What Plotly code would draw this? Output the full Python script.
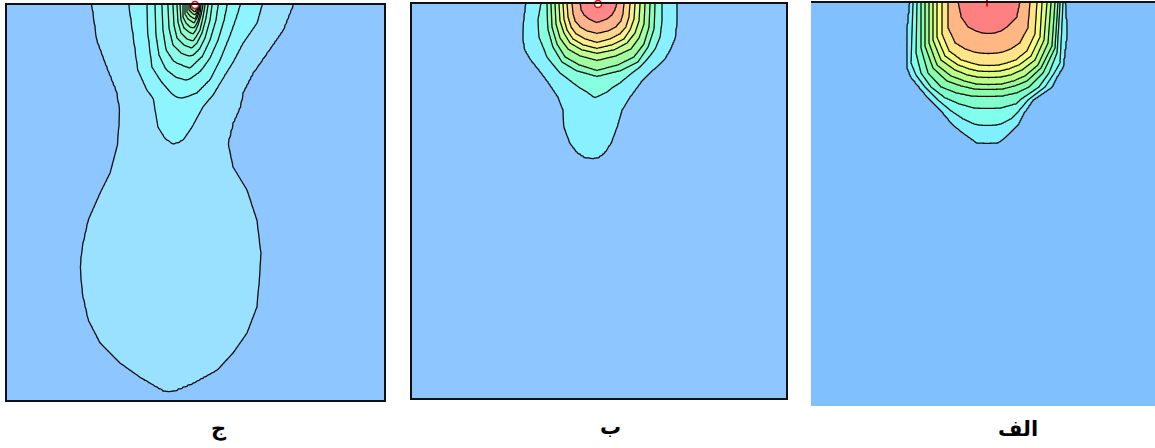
import numpy as np
import plotly.graph_objects as go

# ------------------------------------------------------------------
# Panel ج : contour extents, one list per contour level (outer -> inner)
# depth measured down from the top edge, x from the panel's left edge
# ------------------------------------------------------------------
jim_width, jim_height = 377, 395
jim_left_depth = [
    [0, 35, 62, 87, 105, 138, 168, 188, 215, 242, 262, 288, 315, 338, 358, 372, 388],
    [0, 28, 65, 85, 93, 105, 122, 133, 139],
    [0, 28, 62, 78, 89, 94],
    [0, 30, 50, 65, 73, 75],
    [0, 25, 45, 57, 63],
    [0, 23, 40, 48, 52],
    [0, 20, 33, 40, 43],
    [0, 17, 28, 34, 36],
    [0, 15, 23, 27, 29],
    [0, 12, 18, 22, 23],
    [0, 9, 14, 18],
    [0, 7, 11, 14],
    [0, 5, 8, 10],
    [0, 4, 7],
    [0, 3, 4],
    [0, 2],
]
jim_left_x = [
    [85, 90, 100, 110, 113, 111, 103, 93, 81, 75, 73, 75, 81, 93, 113, 133, 161],
    [122, 126, 131, 140, 146, 148, 151, 158, 166],
    [140, 141, 145, 155, 165, 173],
    [148, 149, 152, 159, 170, 181],
    [155, 156, 159, 167, 183],
    [161, 162, 166, 174, 184],
    [166, 167, 170, 177, 185],
    [170, 171, 174, 180, 186],
    [173, 174, 177, 182, 186],
    [176, 176, 179, 183, 187],
    [178, 178, 181, 187],
    [180, 180, 183, 188],
    [182, 182, 185, 188],
    [183, 184, 188],
    [184.5, 186, 188],
    [186, 188],
]
jim_right_depth = [
    [0, 25, 48, 68, 87, 102, 118, 138, 162, 185, 215, 248, 268, 302, 328, 348, 365, 378, 388],
    [0, 18, 38, 57, 73, 90, 102, 122, 135, 139],
    [0, 10, 30, 55, 75, 88, 94],
    [0, 15, 35, 53, 67, 75],
    [0, 15, 35, 52, 63],
    [0, 15, 33, 45, 52],
    [0, 13, 28, 38, 43],
    [0, 12, 25, 32, 36],
    [0, 10, 20, 25, 29],
    [0, 9, 16, 20, 23],
    [0, 7, 13, 18],
    [0, 6, 10, 14],
    [0, 5, 8, 10],
    [0, 4, 7],
    [0, 3, 4],
    [0, 2],
]
jim_right_x = [
    [286, 276, 260, 246, 236, 233, 226, 221, 226, 240, 250, 254, 253, 250, 240, 226, 210, 186, 161],
    [255, 250, 236, 226, 216, 206, 196, 185, 176, 166],
    [233, 230, 223, 213, 203, 190, 173],
    [220, 217, 211, 203, 193, 181],
    [211, 209, 203, 195, 183],
    [205, 203, 198, 192, 184],
    [201, 199, 195, 190, 185],
    [198, 196, 193, 189, 186],
    [196, 194, 191, 189, 186],
    [194, 193, 191, 189, 187],
    [193, 192, 190, 187],
    [192, 191, 190, 188],
    [191, 190.5, 189.5, 188],
    [190, 189.5, 188],
    [189.5, 189, 188],
    [189, 188],
]
jim_colors = ["#8ec6ff", "#9ae0ff", "#8ef4ff", "#8cf9f8", "#8cfbf0", "#8cfde8",
              "#8cfee0", "#8cffd8", "#8effd0", "#90ffc8", "#94ffc0", "#98ffb8",
              "#9cffb0", "#a0ffa8", "#a4ffa0", "#a8ff98", "#acff90"]
jim_peak = (188, 0)

# ------------------------------------------------------------------
# Panel ب
# ------------------------------------------------------------------
be_width, be_height = 374, 394
be_depth = [
    [0, 16, 34, 46, 56, 66, 78, 93, 106, 123, 139, 148, 152, 155],
    [0, 16, 33, 45, 53, 63, 69, 79, 84, 88, 93],
    [0, 25, 43, 58, 67, 72],
    [0, 23, 40, 53, 61, 66],
    [0, 20, 34, 45, 52, 56],
    [0, 17, 29, 39, 46, 49],
    [0, 15, 26, 35, 41, 44],
    [0, 13, 23, 30, 35, 38],
    [0, 10, 17, 23, 27, 29],
    [0, 6, 11, 15, 18],
]
be_left = [
    [114, 112, 111, 113, 119, 127, 136, 146, 151, 152, 158, 165, 171, 180],
    [129, 126, 127, 132, 135, 143, 148, 161, 168, 175, 182],
    [135, 136, 141, 150, 165, 184],
    [139, 140, 145, 153, 167, 184],
    [143, 144, 148, 156, 168, 184],
    [147, 148, 152, 158, 170, 184],
    [151, 152, 155, 161, 171, 184],
    [155, 156, 159, 164, 173, 184],
    [160, 161, 163, 168, 175, 184],
    [168, 169, 172, 177, 184],
]
be_right = [
    [265, 265, 263, 258, 252, 241, 229, 218, 210, 205, 199, 193, 188, 181],
    [250, 250, 248, 243, 237, 228, 220, 208, 200, 195, 184],
    [243, 242, 236, 226, 208, 186],
    [238, 237, 232, 222, 206, 186],
    [233, 232, 227, 219, 204, 186],
    [228, 227, 223, 215, 202, 186],
    [223, 222, 218, 212, 200, 186],
    [218, 217, 214, 208, 198, 186],
    [212, 211, 209, 204, 196, 186],
    [205, 203, 200, 195, 186],
]
be_colors = ["#8ec6ff", "#88f0ff", "#88ffe0", "#8cffc0", "#a0ffa0", "#c0ff90",
             "#e0ff8c", "#fff08c", "#ffd890", "#ffb48c", "#ff8888"]
be_peak = (186, 0)

# ------------------------------------------------------------------
# Panel الف
# ------------------------------------------------------------------
alef_width, alef_height = 344, 403
alef_depth = [
    [0, 30, 64, 74, 84, 97, 110, 122, 130, 137, 140],
    [0, 60, 72, 84, 97, 108, 116, 121, 122],
    [0, 50, 70, 84, 95, 101, 105],
    [0, 45, 70, 84, 90, 93],
    [0, 43, 65, 78, 83, 86],
    [0, 40, 62, 73, 78, 81],
    [0, 37, 57, 67, 72, 74],
    [0, 34, 53, 62, 66, 68],
    [0, 31, 48, 57, 60, 62],
    [0, 25, 40, 46, 49, 50],
    [0, 14, 24, 28, 30],
]
alef_left = [
    [99, 96, 96, 100, 108, 119, 132, 142, 152, 162, 166],
    [102, 100, 105, 114, 127, 140, 152, 163, 168],
    [106, 105, 110, 120, 134, 148, 163],
    [110, 110, 117, 130, 145, 160],
    [114, 114, 122, 136, 150, 163],
    [118, 118, 126, 140, 153, 165],
    [122, 122, 130, 144, 156, 166],
    [126, 126, 134, 147, 158, 167],
    [131, 131, 138, 150, 160, 168],
    [137, 137, 144, 154, 163, 169],
    [147, 150, 157, 165, 172],
]
alef_right = [
    [254, 256, 252, 246, 241, 222, 213, 207, 199, 191, 186],
    [252, 249, 242, 234, 217, 208, 200, 190, 185],
    [249, 246, 238, 228, 212, 205, 190],
    [247, 244, 232, 218, 206, 192],
    [244, 241, 230, 216, 204, 192],
    [240, 237, 227, 214, 203, 191],
    [236, 233, 224, 211, 200, 190],
    [231, 229, 220, 208, 198, 189],
    [226, 224, 216, 205, 196, 188],
    [219, 217, 209, 200, 192, 186],
    [209, 206, 196, 190, 183],
]
alef_colors = ["#80c0ff", "#80f0ff", "#80ffec", "#80ffcc", "#88ffac", "#9cff94",
               "#bcff88", "#dcff80", "#f8ff80", "#ffe488", "#ffb884", "#ff8080"]
alef_peak = (176, 0)

panel_labels = ["ج", "ب", "الف"]


def level_field(ld, lx, rd, rx, xs, ys):
    """Grid whose value equals k exactly on the k-th contour outline."""
    z = np.zeros((len(ys), len(xs)))
    for i, y in enumerate(ys):
        lefts, rights = [], []
        for k in range(len(ld)):
            if y > ld[k][-1] or y > rd[k][-1]:
                break
            xl = float(np.interp(y, ld[k], lx[k]))
            xr = float(np.interp(y, rd[k], rx[k]))
            if lefts:
                xl = max(xl, lefts[-1] + 0.05)
                xr = min(xr, rights[-1] - 0.05)
            if xr - xl < 0.1:
                break
            lefts.append(xl)
            rights.append(xr)
        m = len(lefts)
        if m == 0:
            continue
        px = [xs[0] - 1] + lefts + [(lefts[-1] + rights[-1]) / 2] + rights[::-1] + [xs[-1] + 1]
        pz = [0] + list(range(1, m + 1)) + [m + 0.5] + list(range(m, 0, -1)) + [0]
        z[i] = np.interp(xs, px, pz)
    return np.round(z, 3)


def grid(width, height, fine_x, fine_y, step_x=2.0, step_y=2.0):
    xs = np.unique(np.concatenate([np.arange(0, width, step_x), np.arange(*fine_x), [width]]))
    ys = np.unique(np.concatenate([np.arange(*fine_y), np.arange(fine_y[1], height, step_y), [height]]))
    return xs, ys


W, H = 1155, 448
panels = [
    dict(ld=jim_left_depth, lx=jim_left_x, rd=jim_right_depth, rx=jim_right_x,
         colors=jim_colors, w=jim_width, h=jim_height, peak=jim_peak,
         fine_x=(165, 210, 0.5), fine_y=(0, 40, 0.5),
         box=(7, 384, 5, 400), label_xy=(219, 428), frame="box"),
    dict(ld=be_depth, lx=be_left, rd=be_depth, rx=be_right,
         colors=be_colors, w=be_width, h=be_height, peak=be_peak,
         fine_x=(100, 280, 1.0), fine_y=(0, 100, 1.0),
         box=(412, 786, 4, 398), label_xy=(610, 427), frame="box"),
    dict(ld=alef_depth, lx=alef_left, rd=alef_depth, rx=alef_right,
         colors=alef_colors, w=alef_width, h=alef_height, peak=alef_peak,
         fine_x=(90, 265, 1.0), fine_y=(0, 150, 1.0),
         box=(811, 1155, 3, 406), label_xy=(1018, 429), frame="top"),
]

fig = go.Figure()
layout = {}
for idx, p in enumerate(panels, start=1):
    xs, ys = grid(p["w"], p["h"], p["fine_x"], p["fine_y"])
    z = level_field(p["ld"], p["lx"], p["rd"], p["rx"], xs, ys)
    n = len(p["ld"])
    scale = [[k / n, c] for k, c in enumerate(p["colors"])]
    xa = "x" if idx == 1 else f"x{idx}"
    ya = "y" if idx == 1 else f"y{idx}"
    fig.add_trace(go.Contour(
        x=xs, y=ys, z=z.tolist(), xaxis=xa, yaxis=ya,
        contours=dict(start=1, end=n, size=1, coloring="fill", showlines=True),
        line=dict(color="#0d0d0d", width=1.3, smoothing=0.6),
        colorscale=scale, showscale=False, hoverinfo="skip",
    ))
    if p["frame"] == "box":
        fig.add_trace(go.Scatter(
            x=[p["peak"][0]], y=[p["peak"][1]], xaxis=xa, yaxis=ya, mode="markers",
            marker=dict(symbol="circle", size=7, color="white",
                        line=dict(color="#e01010", width=1.5)),
            cliponaxis=False, hoverinfo="skip", showlegend=False,
        ))
    else:
        fig.add_trace(go.Scatter(
            x=[p["peak"][0]], y=[p["peak"][1]], xaxis=xa, yaxis=ya, mode="markers",
            marker=dict(symbol="line-ns", size=5, line=dict(color="#e01010", width=2)),
            cliponaxis=False, hoverinfo="skip", showlegend=False,
        ))

    x0, x1, y0, y1 = p["box"]
    boxed = p["frame"] == "box"
    xkey = "xaxis" if idx == 1 else f"xaxis{idx}"
    ykey = "yaxis" if idx == 1 else f"yaxis{idx}"
    layout[xkey] = dict(
        domain=[x0 / W, x1 / W], range=[0, p["w"]], anchor=ya,
        showgrid=False, zeroline=False, showticklabels=False, ticks="",
        showline=True, mirror=boxed, linecolor="#111111", linewidth=2,
        side="bottom" if boxed else "top", fixedrange=True,
    )
    layout[ykey] = dict(
        domain=[1 - y1 / H, 1 - y0 / H], range=[p["h"], 0], anchor=xa,
        showgrid=False, zeroline=False, showticklabels=False, ticks="",
        showline=boxed, mirror=boxed, linecolor="#111111", linewidth=2,
        fixedrange=True,
    )

annotations = []
for p, text in zip(panels, panel_labels):
    lx, ly = p["label_xy"]
    annotations.append(dict(
        text=f"<b>{text}</b>", x=lx / W, y=1 - ly / H, xref="paper", yref="paper",
        showarrow=False, xanchor="center", yanchor="middle",
        font=dict(family="DejaVu Sans", size=21, color="#000000"),
    ))

fig.update_layout(
    width=W, height=H, margin=dict(l=0, r=0, t=0, b=0),
    paper_bgcolor="white", plot_bgcolor="white", showlegend=False,
    annotations=annotations, **layout,
)
fig.write_html("out.html")
